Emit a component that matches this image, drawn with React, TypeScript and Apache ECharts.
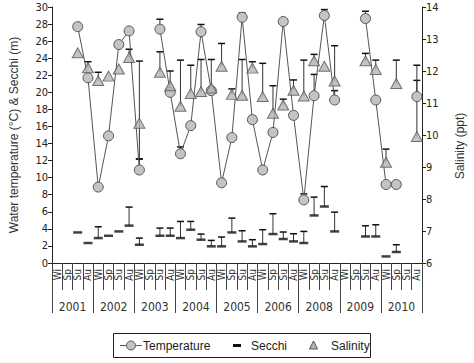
import React, { useEffect, useRef } from "react";
import * as echarts from "echarts";

const seasons = ["Wi", "Sp", "Su", "Au"];
const years = ["2001", "2002", "2003", "2004", "2005", "2006", "2008", "2009", "2010"];
const categories: string[] = years.flatMap(() => seasons);

const temperature = [null, null, 27.7, 21.7, 8.9, 14.9, 25.6, 27.2, 10.9, null, 27.4, 20.0, 12.8, 16.1, 27.1, 20.2, 9.4, 14.7, 28.8, 16.8, 10.9, 15.3, 28.3, 17.3, 7.4, 19.6, 29.0, 19.1, null, null, 28.65, 19.1, 9.2, 9.2, null, 19.5];
const temperatureErrTop = [null, null, null, null, null, null, null, null, 12.2, null, 28.57, null, 13.6, null, 27.95, null, null, null, 29.3, null, null, null, null, null, 8.1, 22.1, 29.7, 20.2, null, null, 29.5, null, null, null, null, 21.4];

const secchi = [null, null, 3.58, 2.34, 2.92, 3.19, 3.7, 4.38, 2.14, null, 3.19, 3.19, 2.92, 3.9, 2.73, 1.95, 1.95, 3.58, 2.53, 1.95, 2.22, 3.39, 2.81, 2.53, 2.34, 5.57, 6.62, 3.7, null, null, 3.11, 3.11, 0.77, 1.29, null, null];
const secchiErrTop = [null, null, null, null, 4.25, null, null, 6.55, 2.92, null, 4.09, 4.09, 4.87, 4.87, 3.39, 2.65, 3.04, 5.26, 3.78, 2.73, 3.9, 5.77, 3.63, 3.43, 3.7, 7.72, 8.96, 5.96, null, null, 4.36, 4.48, null, 2.14, null, null];

const salinity = [null, null, 12.57, 12.1, 11.7, 11.84, 12.06, 12.42, 10.37, null, 11.96, 11.54, 10.9, 11.3, 11.36, 11.47, 12.15, 11.27, 11.24, 12.09, 11.2, 10.68, 10.94, 11.4, 11.22, 12.32, 12.15, 11.69, null, null, 12.32, 12.05, 9.15, 11.61, null, 9.95];
const salinityErrTop = [null, null, null, 12.29, 11.96, null, null, 12.68, 12.31, null, 12.6, 12.0, 12.34, 12.18, 12.36, 12.36, 12.86, 11.44, 12.36, 12.29, 12.24, 11.54, 11.12, 11.72, 12.34, 12.52, null, 12.79, null, null, 12.55, 12.34, 9.56, 12.34, null, 12.18];
const salinityErrBottom = [null, null, null, null, null, null, null, null, 9.25, null, null, null, null, null, null, null, null, null, null, null, null, null, null, null, null, null, null, null, null, null, null, null, null, null, null, null];

const NARROW = "'Liberation Sans Narrow', 'DejaVu Sans Condensed', 'Liberation Sans', Arial, sans-serif";
const REG = "'Liberation Sans', Arial, sans-serif";

function errData(base: (number | null)[], tops: (number | null)[]) {
  const out: number[][] = [];
  tops.forEach((t, i) => {
    const b = base[i];
    if (t != null && b != null) out.push([i, b, t]);
  });
  return out;
}

function renderErr(params: any, api: any) {
  const x = api.value(0);
  const p0 = api.coord([x, api.value(1)]);
  const p1 = api.coord([x, api.value(2)]);
  return {
    type: "group",
    children: [
      { type: "line", shape: { x1: p0[0], y1: p0[1], x2: p1[0], y2: p1[1] }, style: { stroke: "#333", lineWidth: 1 } },
      { type: "line", shape: { x1: p1[0] - 3.5, y1: p1[1], x2: p1[0] + 3.5, y2: p1[1] }, style: { stroke: "#111", lineWidth: 1.5 } },
    ],
  };
}

export default function App() {
  const ref = useRef<HTMLDivElement>(null);
  useEffect(() => {
    document.body.style.margin = "0";
    const chart = echarts.init(ref.current!, null, { renderer: "svg" });
    const axisLine = { show: true, lineStyle: { color: "#222", width: 1 } };
    chart.setOption({
      animation: false,
      backgroundColor: "#fff",
      grid: { left: 45, right: 42, top: 7, bottom: 100, containLabel: false },
      xAxis: [
        {
          type: "category",
          data: categories,
          position: "bottom",
          boundaryGap: true,
          axisLine,
          axisTick: { show: true, interval: 0, length: 27, lineStyle: { color: "#444" } },
          axisLabel: { interval: 0, rotate: 90, fontSize: 10, margin: 6, color: "#333", fontFamily: NARROW },
        },
        {
          type: "category",
          data: years,
          position: "bottom",
          boundaryGap: true,
          axisLine: { show: false },
          axisTick: { show: true, interval: 0, length: 50, lineStyle: { color: "#444" } },
          axisLabel: { interval: 0, fontSize: 12, margin: 38, color: "#333", fontFamily: NARROW },
        },
      ],
      yAxis: [
        {
          type: "value",
          min: 0,
          max: 30,
          interval: 2,
          position: "left",
          axisLine,
          axisTick: { show: true, length: 4, lineStyle: { color: "#222" } },
          splitLine: { show: false },
          axisLabel: { fontSize: 11, margin: 4, color: "#222", fontFamily: NARROW },
          name: "Water temperature (°C) & Secchi (m)",
          nameLocation: "middle",
          nameRotate: 90,
          nameGap: 32,
          nameTextStyle: { fontSize: 12, color: "#333", fontFamily: REG },
        },
        {
          type: "value",
          min: 6,
          max: 14,
          interval: 1,
          position: "right",
          axisLine,
          axisTick: { show: true, length: 4, lineStyle: { color: "#222" } },
          splitLine: { show: false },
          axisLabel: { fontSize: 11, margin: 4, color: "#222", fontFamily: NARROW },
          name: "Salinity (ppt)",
          nameLocation: "middle",
          nameRotate: 90,
          nameGap: 32,
          nameTextStyle: { fontSize: 12, color: "#333", fontFamily: REG, padding: [0, 22, 0, 0] },
        },
      ],
      series: [
        {
          name: "TempErr",
          type: "custom",
          xAxisIndex: 0,
          yAxisIndex: 0,
          renderItem: renderErr,
          data: errData(temperature, temperatureErrTop),
          encode: { x: 0, y: [1, 2] },
          z: 1,
          silent: true,
        },
        {
          name: "SecchiErr",
          type: "custom",
          xAxisIndex: 0,
          yAxisIndex: 0,
          renderItem: renderErr,
          data: errData(secchi, secchiErrTop),
          encode: { x: 0, y: [1, 2] },
          z: 1,
          silent: true,
        },
        {
          name: "SalErr",
          type: "custom",
          xAxisIndex: 0,
          yAxisIndex: 1,
          renderItem: renderErr,
          data: [...errData(salinity, salinityErrTop), ...errData(salinity, salinityErrBottom)],
          encode: { x: 0, y: [1, 2] },
          z: 1,
          silent: true,
        },
        {
          name: "Temperature",
          type: "line",
          xAxisIndex: 0,
          yAxisIndex: 0,
          data: temperature,
          connectNulls: false,
          symbol: "circle",
          symbolSize: 10,
          showAllSymbol: true,
          lineStyle: { color: "#555", width: 1 },
          itemStyle: { color: "#c4c4c4", borderColor: "#555", borderWidth: 1 },
          z: 3,
        },
        {
          name: "Secchi",
          type: "scatter",
          xAxisIndex: 0,
          yAxisIndex: 0,
          data: secchi,
          symbol: "rect",
          symbolSize: [9, 2.5],
          itemStyle: { color: "#111" },
          z: 3,
        },
        {
          name: "Salinity",
          type: "scatter",
          xAxisIndex: 0,
          yAxisIndex: 1,
          data: salinity,
          symbol: "triangle",
          symbolSize: [11, 10],
          itemStyle: { color: "#b4b4b4", borderColor: "#555", borderWidth: 1 },
          z: 4,
        },
      ],
      graphic: [
        { type: "rect", shape: { x: 113.5, y: 333.5, width: 257, height: 24 }, style: { fill: "none", stroke: "#222", lineWidth: 1 } },
        { type: "line", shape: { x1: 120, y1: 345.5, x2: 142, y2: 345.5 }, style: { stroke: "#555", lineWidth: 1 } },
        { type: "circle", shape: { cx: 131, cy: 345.5, r: 4.5 }, style: { fill: "#c4c4c4", stroke: "#555", lineWidth: 1 } },
        { type: "text", x: 143, y: 346, style: { text: "Temperature", fontSize: 12, fontFamily: REG, fill: "#222", verticalAlign: "middle" } },
        { type: "rect", shape: { x: 233, y: 344, width: 8, height: 3 }, style: { fill: "#111" } },
        { type: "text", x: 251, y: 346, style: { text: "Secchi", fontSize: 12, fontFamily: REG, fill: "#222", verticalAlign: "middle" } },
        { type: "polygon", shape: { points: [[313.5, 341], [309.5, 349], [317.5, 349]] }, style: { fill: "#b4b4b4", stroke: "#555", lineWidth: 1 } },
        { type: "text", x: 331, y: 346, style: { text: "Salinity", fontSize: 12, fontFamily: REG, fill: "#222", verticalAlign: "middle" } },
      ],
    });
    return () => chart.dispose();
  }, []);
  return <div ref={ref} style={{ width: 474, height: 363, position: "absolute", left: 0, top: 0 }} />;
}
